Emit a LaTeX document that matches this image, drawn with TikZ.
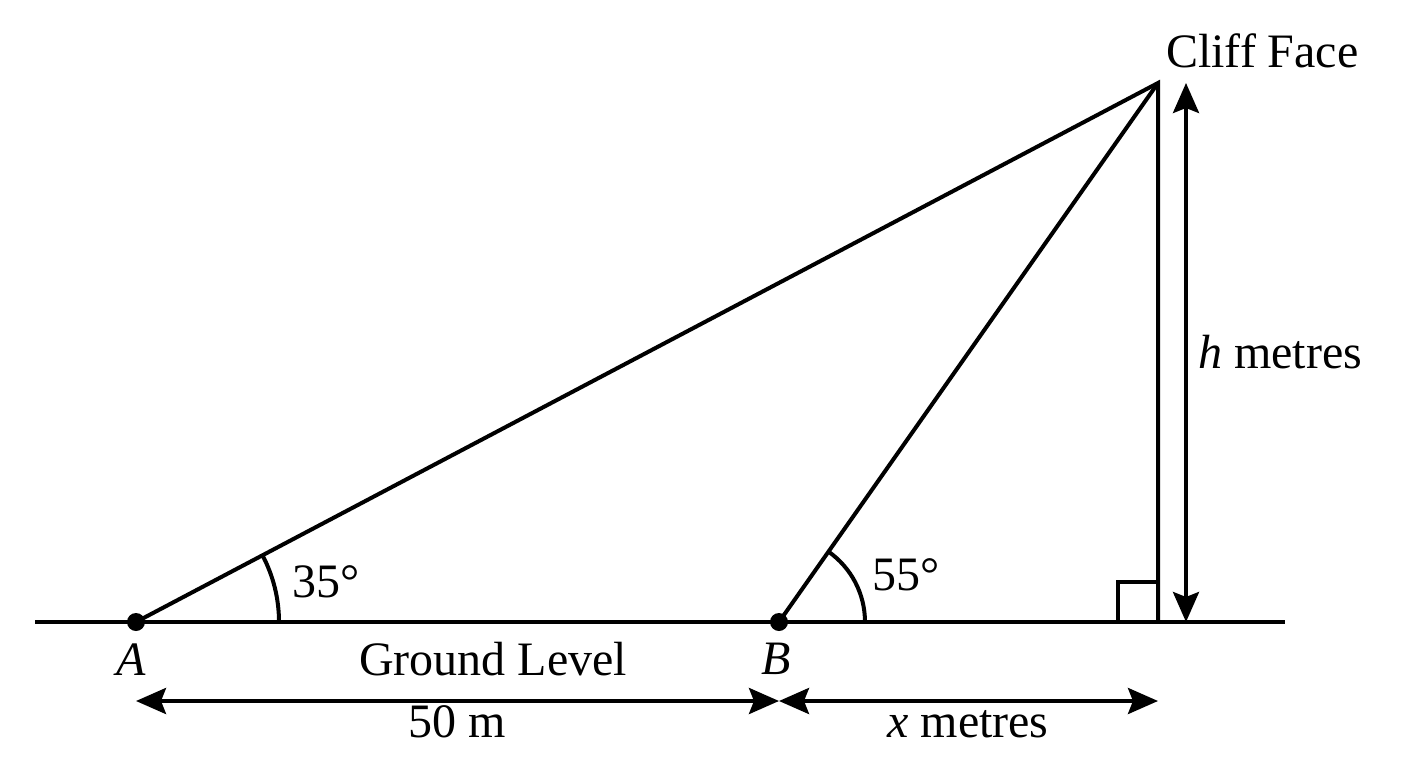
\documentclass[tikz,border=0pt]{standalone}
\usepackage{fontspec}
\setmainfont{Liberation Serif}
\usetikzlibrary{arrows.meta}
\begin{document}
\begin{tikzpicture}[x=1pt,y=-1pt,
  ln/.style={line width=4pt},
  dim/.style={line width=4pt,{Stealth[length=30pt,width=26pt,inset=5pt]}-{Stealth[length=30pt,width=26pt,inset=5pt]}},
  lbl/.style={inner sep=0pt,font=\fontsize{48}{56}\selectfont},
  dot/.style={circle,fill=black,inner sep=0pt,minimum size=18pt}]
\useasboundingbox (0,0) rectangle (1408,768);
\coordinate (A) at (136,622);
\coordinate (B) at (779,622);
\coordinate (T) at (1158,83);
\coordinate (F) at (1158,622);
\coordinate (GL) at (35,622);
\coordinate (GR) at (1285,622);
% ground
\draw[ln] (GL) -- (GR);
% triangle sides
\draw[ln,line join=miter] (A) -- (T) -- (F);
\draw[ln] (B) -- (T);
% right-angle box
\draw[ln] (1118,622) -- (1118,582) -- (1158,582);
% angle arcs
\draw[ln] (279,622) arc[start angle=0,end angle=-27.8,radius=143];
\draw[ln] (865,622) arc[start angle=0,end angle=-54.9,radius=86];
% dots
\node[dot] (dA) at (A) {};
\node[dot] (dB) at (B) {};
% dimension arrows
\coordinate (d1) at (136,701);
\coordinate (d2) at (779,701);
\coordinate (d3) at (1158,701);
\draw[dim] (d1) -- (d2);
\draw[dim] (d2) -- (d3);
\coordinate (h1) at (1186,83);
\coordinate (h2) at (1186,622);
\draw[dim] (h1) -- (h2);
% labels
\node[lbl,anchor=base west] (cf) at (1166,67) {Cliff Face};
\node[lbl,anchor=base west] (hm) at (1198,368) {\textit{h} metres};
\node[lbl,anchor=base west] (a35) at (292,597) {35°};
\node[lbl,anchor=base west] (a55) at (872,590) {55°};
\node[lbl,anchor=base] (la) at (131,675) {\textit{A}};
\node[lbl,anchor=base] (lb) at (776,674) {\textit{B}};
\node[lbl,anchor=base] (gl) at (493,675) {Ground Level};
\node[lbl,anchor=base] (fm) at (457,737) {50 m};
\node[lbl,anchor=base] (xm) at (968,737) {\textit{x} metres};
\end{tikzpicture}
\end{document}
